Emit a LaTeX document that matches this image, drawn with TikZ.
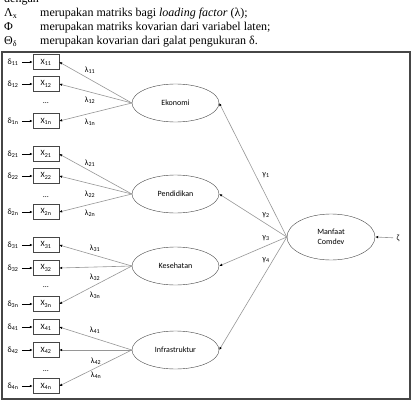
\documentclass[tikz,border=0pt]{standalone}
\usepackage{fontspec}
\setmainfont{Liberation Serif}
\newfontfamily\dgfont{Carlito}
\usetikzlibrary{arrows.meta,positioning,shapes.geometric}
\definecolor{ln}{RGB}{150,150,150}
\definecolor{bd}{RGB}{70,70,70}
\tikzset{ind/.style={draw=bd,fill=white,minimum width=26pt,minimum height=15pt,inner sep=0pt},
 lat/.style={ellipse,draw=bd,fill=white,minimum width=87pt,minimum height=38pt,inner sep=0pt,align=center},
 hd/.style={font=\fontsize{12}{14}\selectfont,inner sep=0pt,anchor=base west},
 ld/.style={draw=ln,line width=.6pt,-{Latex[length=3pt,width=2.6pt,color=black]}},
 er/.style={draw=black,line width=.6pt,-{Latex[length=3pt,width=2.6pt]}},
 frm/.style={draw=bd,line width=1.2pt},
 every node/.style={font=\dgfont\fontsize{8}{9.5}\selectfont}}
\begin{document}
\begin{tikzpicture}[x=1pt,y=-1pt]
\useasboundingbox (0,0) rectangle (412,404);
% keterangan
\node[hd] (t0) at (4,3) {dengan};
\node[hd] (t1) at (4,17) {Λ\textsubscript{x}};
\node[hd] (t2) at (4,31) {Φ};
\node[hd] (t3) at (4,45) {Θ\textsubscript{δ}};
\node[hd] (m1) at (40,17) {merupakan matriks bagi \textit{loading factor} (λ);};
\node[hd] (m2) at (40,31) {merupakan matriks kovarian dari variabel laten;};
\node[hd] (m3) at (40,45) {merupakan kovarian dari galat pengukuran δ.};
\draw[frm] (2,52) rectangle (410,399);
% variabel laten
\node[lat] (eko) at (175.5,103) {Ekonomi};
\node[lat] (pen) at (175.5,194) {Pendidikan};
\node[lat] (kes) at (175.5,266) {Kesehatan};
\node[lat] (inf) at (175.5,350) {Infrastruktur};
\node[lat,minimum width=88pt,minimum height=46pt] (mc) at (331,237) {Manfaat\\Comdev};
\node (zeta) at (398,238) {ζ};
\draw[ld] (zeta) -- (mc.east);
% indikator
\foreach \g/\lv/\ya/\yb/\yc/\yd in {1/eko/62/84/103/121,2/pen/154/176/197/212,3/kes/245/268/287/304,4/inf/327/350/371/386}{
  \foreach \i/\y in {1/\ya,2/\yb,n/\yd}{
    \node[ind] (x\g\i) at (46,\y) {X\textsubscript{\g\i}};
    \node (d\g\i) at (13,\y) {δ\textsubscript{\g\i}};
    \draw[er] (d\g\i) -- (x\g\i);
    \draw[ld] (\lv.west) -- (x\g\i.east);
  }
  \node (dots\g) at (46,\yc) {\dots};
}
\foreach \g/\i/\x/\y in {1/1/90/70,1/2/90/100,1/n/90/122,2/1/90/163,2/2/90/194,2/n/90/213,3/1/95/248,3/2/95/277,3/n/95/295,4/1/95/330,4/2/96/361,4/n/96/375}
  \node (l\g\i) at (\x,\y) {λ\textsubscript{\g\i}};
\foreach \i/\lv/\y in {1/eko/175,2/pen/215,3/kes/238,4/inf/260}{
  \draw[ld] (mc.west) -- (\lv.east);
  \node (g\i) at (266,\y) {γ\textsubscript{\i}};
}
\end{tikzpicture}
\end{document}
